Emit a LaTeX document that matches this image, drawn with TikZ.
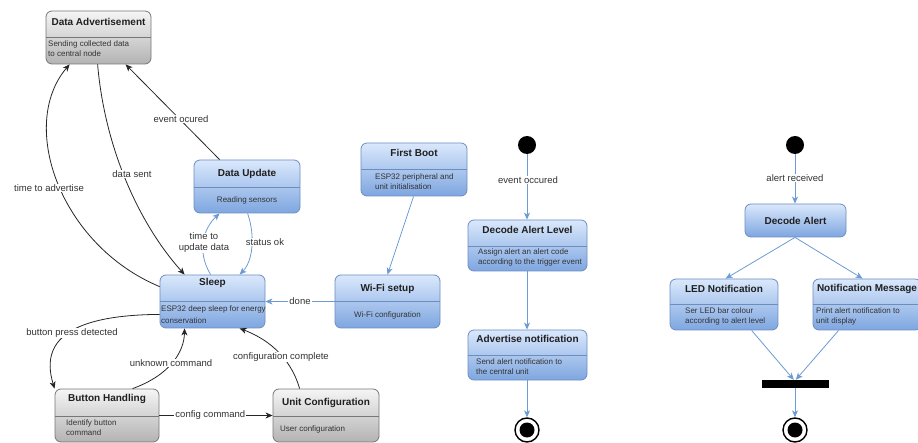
\documentclass[tikz,border=0pt]{standalone}
\usepackage{fontspec}
\setmainfont{Liberation Sans}
\usetikzlibrary{arrows.meta,fit,calc}

\definecolor{bluestroke}{HTML}{6C8EBF}
\definecolor{bluetop}{HTML}{DAE8FC}
\definecolor{bluebot}{HTML}{7EA6E0}
\definecolor{graystroke}{HTML}{777777}
\definecolor{graytop}{HTML}{F5F5F5}
\definecolor{graybot}{HTML}{B3B3B3}
\definecolor{bluewire}{HTML}{6C9BD2}
\definecolor{labelgray}{HTML}{333333}

\tikzset{
  bluestate/.style={draw=bluestroke, line width=0.8pt, rounded corners=6pt,
    top color=bluetop, bottom color=bluebot},
  graystate/.style={draw=graystroke, line width=0.8pt, rounded corners=6pt,
    top color=graytop, bottom color=graybot},
  bluediv/.style={draw=bluestroke, line width=0.6pt},
  graydiv/.style={draw=graystroke, line width=0.6pt},
  titletext/.style={font=\fontsize{10}{12}\selectfont\bfseries, text=black!88, inner sep=0pt},
  bodytext/.style={font=\fontsize{8}{10}\selectfont, text=labelgray, align=left, inner sep=0pt},
  edgelabel/.style={font=\fontsize{9.5}{11}\selectfont, text=labelgray, fill=white,
    inner sep=1pt, align=center},
  tip/.style={-{Stealth[length=7pt,width=6pt,inset=2pt]}},
  blackwire/.style={draw=black!85, line width=0.8pt, tip},
  bluewireS/.style={draw=bluewire, line width=0.8pt, tip},
  startdot/.style={circle, fill=black, minimum size=18pt, inner sep=0pt},
  endring/.style={circle, draw=black, line width=1.4pt, fill=white, minimum size=24pt, inner sep=0pt},
  enddot/.style={circle, fill=black, minimum size=15pt, inner sep=0pt},
}

% state box: style, name, x1, y1, x2, y2, divider y, title y, title
\newcommand\umlstate[9]{%
  \node[fit={(#3,#4)(#5,#6)}, inner sep=0pt, #1state] (#2) {};
  \draw[#1div] (#3,#7) -- (#5,#7);
  \node[titletext] (#2-title) at ({(#3+#5)/2},#8) {#9};
}

\begin{document}
\begin{tikzpicture}[x=1pt,y=-1pt]
\useasboundingbox (0,0) rectangle (918,443);
\clip (0,0) rectangle (918,443);

% ---------- device state machine ----------
\umlstate{gray}{adv}{46}{11}{151}{64}{37}{22}{Data Advertisement}
\node[bodytext, anchor=west] (adv-body) at (48,49) {Sending collected data\\to central node};

\umlstate{blue}{upd}{194}{160}{300}{213}{187}{174}{Data Update}
\node[bodytext] (upd-body) at (247,200) {Reading sensors};

\umlstate{blue}{sleep}{160}{275}{265}{328}{301}{283}{Sleep}
\node[bodytext, anchor=west, font=\fontsize{8}{12}\selectfont] (sleep-body) at (161,315)
  {ESP32 deep sleep for energy\\conservation};

\umlstate{blue}{wifi}{335}{275}{440}{328}{301}{289}{Wi-Fi setup}
\node[bodytext] (wifi-body) at (387.5,315) {Wi-Fi configuration};

\umlstate{blue}{boot}{361}{143}{467}{196}{169}{153}{First Boot}
\node[bodytext, anchor=west] (boot-body) at (375,182) {ESP32 peripheral and\\unit initialisation};

\umlstate{gray}{btn}{55}{389}{159}{442}{416}{399}{Button Handling}
\node[bodytext, anchor=west] (btn-body) at (66,428) {Identify button\\command};

\umlstate{gray}{cfg}{273}{389}{379}{442}{416}{403}{Unit Configuration}
\node[bodytext, anchor=west] (cfg-body) at (280,429) {User configuration};

% transitions
\draw[blackwire] ($(sleep.north west)+(0,12)$)
  .. controls (60,245) and (18,125) .. ($(adv.south west)+(24,0)$);
\node[edgelabel] (l-adv) at (49,188) {time to advertise};
\draw[blackwire] ($(adv.south west)+(52,0)$)
  .. controls (105,150) and (140,225) .. ($(sleep.north west)+(25,0)$);
\node[edgelabel] (l-sent) at (132,174) {data sent};
\draw[blackwire] ($(upd.north west)+(26,0)$) -- ($(adv.south west)+(80,0)$);
\node[edgelabel] (l-evt) at (181,119) {event ocured};

\draw[bluewireS] ($(sleep.north west)+(51,0)$)
  .. controls (196,250) and (204,228) .. ($(upd.south west)+(26,0)$);
\node[edgelabel, inner sep=0.5pt] (l-time) at (204,243) {time to\\update data};
\draw[bluewireS] ($(upd.south west)+(54,0)$)
  .. controls (256,238) and (252,262) .. ($(sleep.north west)+(80,0)$);
\node[edgelabel] (l-ok) at (265,242) {status ok};

\draw[bluewireS] ($(boot.south west)+(53,0)$) -- (wifi.north);
\draw[bluewireS] (wifi.west) -- (sleep.east) node[edgelabel, pos=0.5] (l-done) {done};

\draw[blackwire] ($(sleep.south west)+(0,-14)$)
  .. controls (80,315) and (38,335) .. (btn.north west);
\node[edgelabel] (l-btn) at (72,333) {button press detected};
\draw[blackwire] ($(btn.north west)+(78,0)$)
  .. controls (170,375) and (184,352) .. ($(sleep.south west)+(25,0)$);
\node[edgelabel] (l-unk) at (171,363) {unknown command};
\draw[blackwire] (btn.east) -- (cfg.west) node[edgelabel, pos=0.45] (l-cmd) {config command};
\draw[blackwire] ($(cfg.north west)+(27,0)$)
  .. controls (290,355) and (265,338) .. ($(sleep.south west)+(80,0)$);
\node[edgelabel] (l-cfg) at (281,357) {configuration complete};

% ---------- alert sender activity ----------
\node[startdot] (s1) at (527,145) {};
\umlstate{blue}{dal}{468}{220}{587}{271}{246}{230}{Decode Alert Level}
\node[bodytext, anchor=west] (dal-body) at (478,257.5) {Assign alert an alert code\\according to the trigger event};
\umlstate{blue}{advn}{468}{330}{587}{380}{355}{339}{Advertise notification}
\node[bodytext, anchor=west] (advn-body) at (476,366.5) {Send alert notification to\\the central unit};
\node[endring] (e1) at (527,430) {};
\node[enddot] (e1-dot) at (527,430) {};

\draw[bluewireS] (s1) -- (s1 |- dal.north);
\node[edgelabel] (l-occ) at (528,180) {event occured};
\draw[bluewireS] (dal.south -| s1) -- (advn.north -| s1);
\draw[bluewireS] (advn.south -| s1) -- (e1.north);

% ---------- alert receiver activity ----------
\node[startdot] (s2) at (795,145) {};
\node[fit={(745,204)(846,237)}, inner sep=0pt, bluestate] (da2) {};
\node[titletext] (da2-title) at (795.5,220.5) {Decode Alert};
\umlstate{blue}{led}{670}{279}{778}{330}{304}{289}{LED Notification}
\node[bodytext, anchor=west] (led-body) at (685,316.5) {Ser LED bar colour\\according to alert level};
\umlstate{blue}{msg}{813}{279}{921}{330}{304}{289}{Notification Message}
\node[bodytext, anchor=west] (msg-body) at (816,316.5) {Print alert notification to\\unit display};
\node[fill=black, minimum width=67pt, minimum height=8pt, inner sep=0pt] (bar) at (795.5,384) {};
\node[endring] (e2) at (795,430) {};
\node[enddot] (e2-dot) at (795,430) {};

\draw[bluewireS] (s2) -- (s2 |- da2.north);
\node[edgelabel] (l-rcv) at (795,178) {alert received};
\draw[bluewireS] (da2.south -| s2) -- ($(led.north west)+(56,0)$);
\draw[bluewireS] (da2.south -| s2) -- ($(msg.north west)+(50,0)$);
\draw[bluewireS] ($(led.south west)+(82,0)$) -- ($(bar.north west)+(32,0)$);
\draw[bluewireS] ($(msg.south west)+(26,0)$) -- ($(bar.north west)+(34,0)$);
\draw[bluewireS] (bar.south -| s2) -- (e2.north);
\end{tikzpicture}
\end{document}
